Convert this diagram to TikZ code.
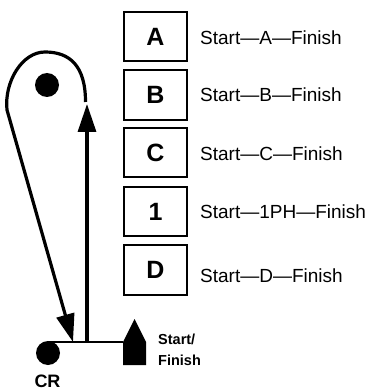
\documentclass[tikz,border=0pt]{standalone}
\usepackage{fontspec}
\setmainfont{Liberation Sans}
\usetikzlibrary{arrows.meta}
\begin{document}
\begin{tikzpicture}[x=1pt,y=-1pt,
  lbox/.style={draw,line width=1.6pt,minimum width=63.5pt,minimum height=49.5pt,inner sep=0pt,font=\fontsize{25}{30}\selectfont\bfseries},
  lbl/.style={anchor=west,inner sep=0pt,font=\fontsize{19}{23}\selectfont},
  bigarrow/.style={line width=3.2pt,-{Triangle[length=28pt,width=18pt]}},
  dot/.style={circle,fill=black,minimum size=24pt,inner sep=0pt}]
\useasboundingbox (0,0) rectangle (370,390);
% boxes
\node[lbox] (bA) at (155.5,36.5) {A};
\node[lbox] (bB) at (155.5,95) {B};
\node[lbox] (bC) at (155.5,152.5) {C};
\node[lbox] (b1) at (155.5,211.5) {1};
\node[lbox] (bD) at (155.5,270) {D};
% labels
\node[lbl] (lA) at (200,37.5) {Start—A—Finish};
\node[lbl] (lB) at (200,95) {Start—B—Finish};
\node[lbl] (lC) at (200,154) {Start—C—Finish};
\node[lbl] (l1) at (200,212) {Start—1PH—Finish};
\node[lbl] (lD) at (200,276) {Start—D—Finish};
% dots
\node[dot] (top) at (47,85) {};
\node[dot] (cr) at (48,353) {};
\node[font=\fontsize{18}{22}\selectfont\bfseries,inner sep=0pt] (crl) at (47.5,381.5) {CR};
% start/finish marker
\coordinate (sfL) at (123,342);
\fill (123,365) -- (sfL) -- (134.5,319) -- (146,342) -- (146,365) -- cycle;
\node[anchor=west,align=left,inner sep=0pt,font=\fontsize{14.5}{21}\selectfont\bfseries] (sft) at (158,349.5) {Start/\\Finish};
% baseline
\coordinate (crtop) at (48,342);
\draw[line width=1.2pt] (crtop) -- (sfL);
% vertical arrow
\coordinate (vbot) at (87,342);
\coordinate (vtop) at (87,104);
\draw[bigarrow] (vbot) -- (vtop);
% loop arrow
\coordinate (ls) at (85.5,102);
\coordinate (apex) at (45,52);
\coordinate (lleft) at (7,110);
\coordinate (ltip) at (73,342);
\draw[bigarrow] (ls) .. controls (85.5,66) and (70,52) .. (apex)
  .. controls (22,52) and (4,82) .. (lleft) -- (ltip);
\end{tikzpicture}
\end{document}
